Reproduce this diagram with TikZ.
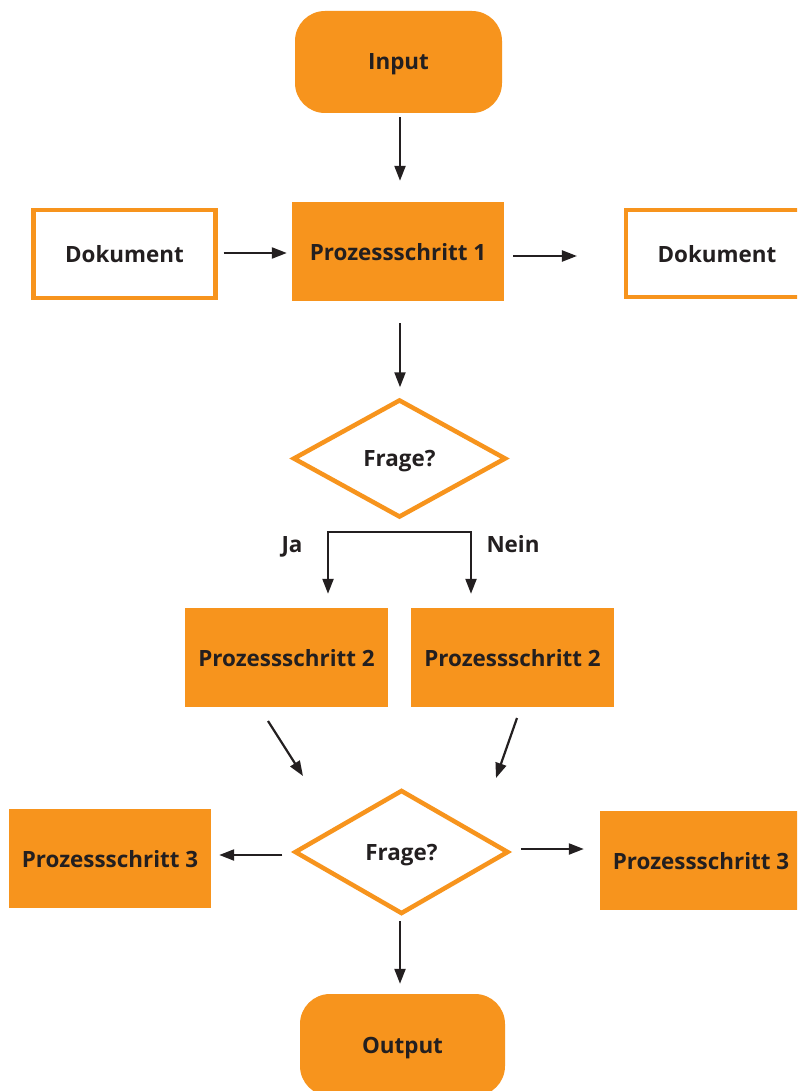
\documentclass[tikz,border=0pt]{standalone}
\usepackage{fontspec}
\setmainfont{Open Sans}
\usetikzlibrary{shapes.geometric,arrows.meta}
\definecolor{orng}{HTML}{F7941D}
\definecolor{ink}{HTML}{231F20}
\begin{document}
\begin{tikzpicture}[x=1pt,y=-1pt,
  txt/.style={text=ink, font=\bfseries\fontsize{22.4}{26}\selectfont, text depth=0pt},
  filledbox/.style={txt, fill=orng, inner sep=0pt},
  docbox/.style={txt, draw=orng, line width=4.5pt, fill=white, inner sep=0pt},
  termbox/.style={filledbox, rounded corners=30pt},
  decision/.style={txt, diamond, draw=orng, line width=4.5pt, inner sep=0pt},
  arr/.style={draw=ink, line width=2.2pt, -{Triangle[length=15pt,width=11pt]}},
  tagtxt/.style={txt}
]
\path[use as bounding box, clip] (0,0) rectangle (797,1091);
\fill[white] (0,0) rectangle (797,1091);

% nodes
\node[termbox, minimum width=207, minimum height=102] (in) at (398.5,62) {Input};
\node[docbox, minimum width=181.6, minimum height=87.5] (docL) at (124.5,254) {Dokument};
\node[filledbox, minimum width=212, minimum height=99] (ps1) at (398,251.5) {Prozessschritt 1};
\node[docbox, minimum width=181.6, minimum height=86.5] (docR) at (717,253.5) {Dokument};
\node[decision, minimum width=213, minimum height=118] (q1) at (399.5,458.5) {Frage?};
\node[filledbox, minimum width=203, minimum height=99] (ps2a) at (286.5,657.5) {Prozessschritt 2};
\node[filledbox, minimum width=203, minimum height=99] (ps2b) at (512.5,657.5) {Prozessschritt 2};
\node[decision, minimum width=214, minimum height=124] (q2) at (401.5,852) {Frage?};
\node[filledbox, minimum width=202, minimum height=99] (ps3a) at (110,858.5) {Prozessschritt 3};
\node[filledbox, minimum width=202, minimum height=99] (ps3b) at (701,860.5) {Prozessschritt 3};
\node[termbox, minimum width=205, minimum height=102] (out) at (402.5,1045) {Output};

\node[tagtxt] (ja) at (292,544) {Ja};
\node[tagtxt] (nein) at (513,544) {Nein};

% connectors
\draw[arr, shorten <=4pt, shorten >=21pt] (in.south -| 400,0) -- (ps1.north -| 400,0);
\draw[arr, shorten <=6pt, shorten >=5pt] (docL.east |- 0,253) -- (ps1.west |- 0,253);
\draw[arr, shorten <=9pt, shorten >=47pt] (ps1.east |- 0,256) -- (docR.west |- 0,256);
\draw[arr, shorten <=22pt, shorten >=10pt] (ps1.south -| 400,0) -- (q1.north -| 400,0);

\coordinate (bl) at (328,532);
\coordinate (br) at (471,532);
\draw[draw=ink, line width=2.2pt, {Triangle[length=15pt,width=11pt]}-{Triangle[length=15pt,width=11pt]}, shorten <=14pt, shorten >=14pt]
  (bl |- ps2a.north) -- (bl) -- (br) -- (br |- ps2b.north);

\coordinate (da1) at (268,721);
\coordinate (da2) at (303,776);
\coordinate (db1) at (517,718);
\coordinate (db2) at (496,778);
\draw[arr] (da1) -- (da2);
\draw[arr] (db1) -- (db2);

\draw[arr, shorten <=10pt, shorten >=8pt] (q2.west |- 0,855) -- (ps3a.east |- 0,855);
\draw[arr, shorten <=10pt, shorten >=16pt] (q2.east |- 0,849) -- (ps3b.west |- 0,849);
\draw[arr, shorten <=5pt, shorten >=10pt] (q2.south -| 400,0) -- (out.north -| 400,0);
\end{tikzpicture}
\end{document}
